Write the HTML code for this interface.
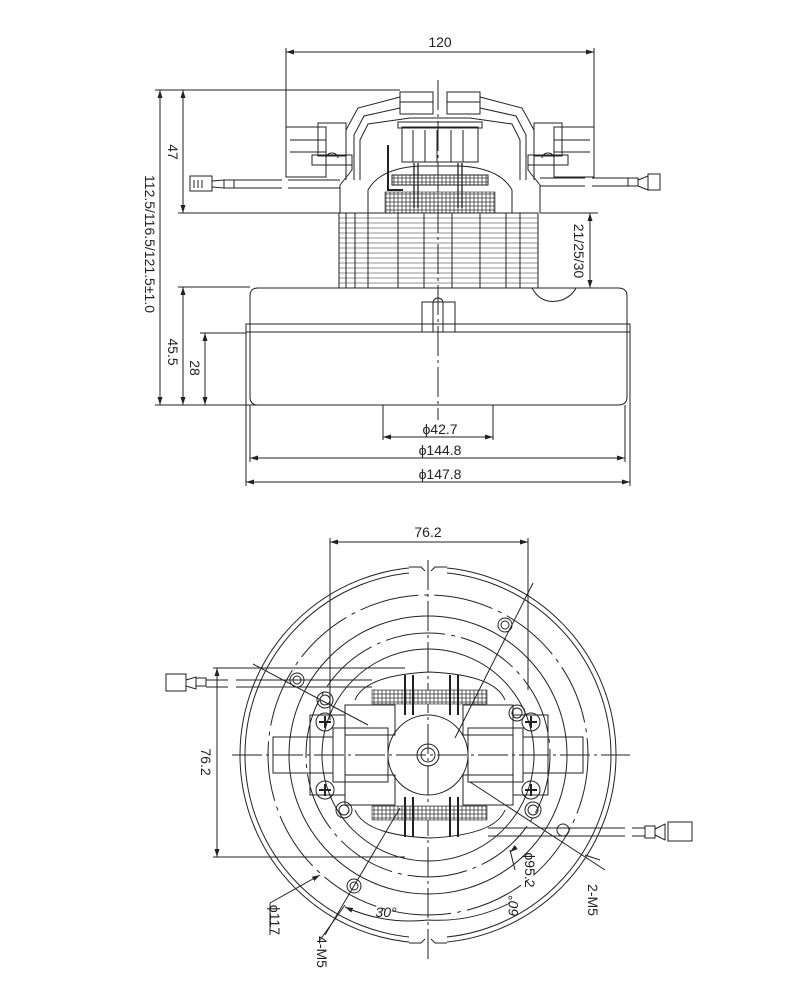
<!DOCTYPE html>
<html><head><meta charset="utf-8"><style>
html,body{margin:0;padding:0;background:#fff}
svg{display:block}
text{font-family:"Liberation Sans",sans-serif;fill:#222}
</style></head><body>
<svg width="800" height="1000" viewBox="0 0 800 1000" xmlns="http://www.w3.org/2000/svg">
<defs>
<marker id="a" markerWidth="8" markerHeight="6" refX="8" refY="3" orient="auto-start-reverse"><path d="M0,0.5 L8,3 L0,5.5z" fill="#222"/></marker>
<pattern id="hatch" width="4" height="4" patternUnits="userSpaceOnUse"><rect width="4" height="4" fill="#fff"/><path d="M0,2h4M2,0v4" stroke="#333" stroke-width="0.8"/></pattern>
</defs>
<g stroke="#222" fill="none" stroke-width="1">
<!-- ===== TOP VIEW ===== -->
<line x1="286" y1="48" x2="286" y2="127"/><line x1="594" y1="48" x2="594" y2="127"/>
<line x1="286" y1="52" x2="594" y2="52" marker-start="url(#a)" marker-end="url(#a)"/>
<line x1="155" y1="90" x2="400" y2="90"/>
<line x1="160" y1="90" x2="160" y2="405" marker-start="url(#a)" marker-end="url(#a)"/>
<line x1="183" y1="90" x2="183" y2="213" marker-start="url(#a)" marker-end="url(#a)"/>
<line x1="178" y1="213" x2="340" y2="213"/>
<line x1="178" y1="287" x2="250" y2="287"/>
<line x1="183" y1="287" x2="183" y2="405" marker-start="url(#a)" marker-end="url(#a)"/>
<line x1="200" y1="333" x2="246" y2="333"/>
<line x1="205" y1="333" x2="205" y2="405" marker-start="url(#a)" marker-end="url(#a)"/>
<line x1="155" y1="405" x2="262" y2="405"/>
<line x1="540" y1="213" x2="598" y2="213"/>
<line x1="590" y1="213" x2="590" y2="288" marker-start="url(#a)" marker-end="url(#a)"/>
<path d="M400,92 h33 v10 h-33z M447,92 h33 v10 h-33z" />
<path d="M400,102 h33 v12 h-33z M447,102 h33 v12 h-33z"/>
<path d="M346,180 L346,130 L358,108 L400,97 M480,97 L522,108 L534,130 L534,180"/>
<path d="M354,180 L354,135 L364,116 L400,108 M480,108 L516,116 L526,135 L526,180"/>
<path d="M360,180 L360,140 L368,124 L410,118 L470,118 L512,124 L520,140 L520,180"/>
<rect x="402" y="127" width="76" height="35"/>
<path d="M413,130v32M425,130v32M437,130v32M451,130v32M463,130v32"/>
<rect x="398" y="122" width="84" height="6"/>
<rect x="286" y="127" width="40" height="50"/><rect x="318" y="123" width="28" height="33"/>
<path d="M290,140h36M290,152h36M312,155h40v10h-40z"/>
<rect x="554" y="127" width="40" height="50"/><rect x="534" y="123" width="28" height="33"/>
<path d="M554,140h36M554,152h36M528,155h40v10h-40z"/>
<path d="M326,158 a6,5 0 0 1 12,0 M542,158 a6,5 0 0 1 12,0"/>
<path d="M340,213 L340,185 L352,170 L352,160 M540,213 L540,185 L528,170 L528,160"/>
<path d="M368,213 L368,190 Q380,168 420,166 L460,166 Q500,168 512,190 L512,213"/>
<rect x="392" y="175" width="96" height="10" fill="url(#hatch)"/>
<rect x="385" y="192" width="110" height="21" fill="url(#hatch)" stroke-width="0.6"/>
<path d="M414,163v45M418,163v45M458,163v45M462,163v45" stroke-width="1.3"/>
<path d="M388,145 v45 h15" stroke-width="2"/>
<rect x="190" y="176" width="22" height="15"/><path d="M194,180v8M198,180v8M202,180v8M212,181 l12,-1 v8 l-12,-1"/>
<rect x="224" y="180" width="10" height="8"/>
<path d="M234,180 H282 M234,188 H282 M288,180 H340 M288,188 H340"/>
<path d="M540,178 H585 M540,186 H585 M592,178 H628 M592,186 H628"/>
<rect x="628" y="178" width="10" height="8"/><path d="M638,180 l10,-4 v14 l-10,-4"/><rect x="648" y="174" width="12" height="16"/>
<rect x="339" y="213" width="199" height="75"/>
<g stroke-width="0.5">
<path d="M339,218h199M339,223h199M339,228h199M339,233h199M339,238h199M339,243h199M339,248h199M339,253h199M339,258h199M339,263h199M339,268h199M339,273h199M339,278h199M339,283h199"/>
</g>
<path d="M346,213v75M355,213v75M368,213v75M398,213v75M424,213v75M452,213v75M480,213v75M506,213v75M520,213v75"/>
<path d="M250,333 L250,296 Q250,288 258,288 L618,288 Q627,288 627,296 L627,333"/>
<rect x="246" y="324" width="384" height="8"/>
<path d="M250,332 L250,397 Q250,405 258,405 L618,405 Q627,405 627,397 L627,332"/>
<path d="M422,332 V302 H455 V332 M433,332 V303 a5,5 0 0 1 10,0 V332"/>
<path d="M532,288 q10,18 30,12 q10,-4 14,-12"/>
<line x1="438" y1="80" x2="438" y2="420" stroke-dasharray="30,4,3,4"/>
<line x1="383" y1="405" x2="383" y2="440"/><line x1="493" y1="405" x2="493" y2="440"/>
<line x1="383" y1="437" x2="493" y2="437" marker-start="url(#a)" marker-end="url(#a)"/>
<line x1="250" y1="405" x2="250" y2="462"/><line x1="625" y1="405" x2="625" y2="462"/>
<line x1="250" y1="458" x2="625" y2="458" marker-start="url(#a)" marker-end="url(#a)"/>
<line x1="246" y1="332" x2="246" y2="486"/><line x1="630" y1="332" x2="630" y2="486"/>
<line x1="246" y1="482" x2="630" y2="482" marker-start="url(#a)" marker-end="url(#a)"/>

<!-- ===== BOTTOM VIEW ===== -->
<line x1="330" y1="538" x2="330" y2="720"/><line x1="528" y1="538" x2="528" y2="690"/>
<line x1="330" y1="542" x2="528" y2="542" marker-start="url(#a)" marker-end="url(#a)"/>
<line x1="213" y1="668" x2="405" y2="668"/><line x1="213" y1="857" x2="405" y2="857"/>
<line x1="217" y1="668" x2="217" y2="857" marker-start="url(#a)" marker-end="url(#a)"/>
<circle cx="428" cy="755" r="188"/>
<circle cx="428" cy="755" r="183"/>
<rect x="409" y="562" width="38" height="12" fill="#fff" stroke="none"/>
<rect x="409" y="936" width="38" height="12" fill="#fff" stroke="none"/>
<path d="M409,567 h12 l4,4 M447,567 h-12 l-4,4 M409,943 h12 l4,-4 M447,943 h-12 l-4,-4"/>
<circle cx="428" cy="755" r="160" stroke-dasharray="60,6,4,6"/>
<circle cx="428" cy="755" r="139"/>
<circle cx="428" cy="755" r="122" stroke-dasharray="60,6,4,6"/>
<circle cx="428" cy="755" r="106"/>
<circle cx="428" cy="755" r="40"/>
<circle cx="428" cy="755" r="11"/><circle cx="428" cy="755" r="7"/>
<line x1="428" y1="560" x2="428" y2="960" stroke-dasharray="30,4,3,4"/>
<line x1="232" y1="755" x2="630" y2="755" stroke-dasharray="30,4,3,4"/>
<path d="M355,700 Q365,675 430,672 Q495,675 505,700" />
<path d="M355,810 Q365,835 430,838 Q495,835 505,810" />
<rect x="372" y="690" width="115" height="14" fill="url(#hatch)" stroke-width="0.6"/>
<rect x="372" y="806" width="115" height="14" fill="url(#hatch)" stroke-width="0.6"/>
<path d="M405,675v40M413,675v40M450,675v40M458,675v40M405,797v40M413,797v40M450,797v40M458,797v40" stroke-width="2"/>
<rect x="273" y="737" width="60" height="36"/><rect x="333" y="728" width="55" height="54"/>
<rect x="523" y="737" width="60" height="36"/><rect x="468" y="728" width="55" height="54"/>
<rect x="345" y="705" width="50" height="30"/><rect x="345" y="775" width="50" height="30"/>
<rect x="463" y="705" width="50" height="30"/><rect x="463" y="775" width="50" height="30"/>
<path d="M310,715 h35 v80 h-35z M513,715 h35 v80 h-35z"/>
<g>
<circle cx="325" cy="722" r="9"/><circle cx="325" cy="790" r="9"/><circle cx="531" cy="722" r="9"/><circle cx="531" cy="790" r="9"/>
<path d="M319,722h12M325,716v12M319,790h12M325,784v12M525,722h12M531,716v12M525,790h12M531,784v12" stroke-width="2"/>
<circle cx="325" cy="700" r="8"/><circle cx="325" cy="700" r="5"/>
<circle cx="517" cy="713" r="8"/><circle cx="517" cy="713" r="5"/>
<circle cx="344" cy="810" r="8"/><circle cx="344" cy="810" r="5"/>
<circle cx="533" cy="810" r="8"/><circle cx="533" cy="810" r="5"/>
<circle cx="297" cy="680" r="7"/><circle cx="297" cy="680" r="4"/>
<circle cx="505" cy="625" r="7"/><circle cx="505" cy="625" r="4"/>
<circle cx="354" cy="886" r="7"/><circle cx="354" cy="886" r="4"/>
<circle cx="563" cy="830" r="6"/>
</g>
<line x1="253" y1="664" x2="368" y2="725"/><line x1="533" y1="583" x2="455" y2="738"/>
<line x1="400" y1="808" x2="325" y2="935"/><line x1="470" y1="782" x2="605" y2="870"/>
<line x1="510" y1="850" x2="515" y2="870"/>
<rect x="166" y="674" width="20" height="17"/><path d="M186,680 l10,-3 v12 l-10,-3"/><rect x="196" y="678" width="10" height="8"/>
<path d="M206,680 H228 M206,687 H228 M236,680 H372 M236,687 H372"/>
<path d="M488,828 H625 M488,836 H625 M632,828 H645 M632,836 H645"/>
<rect x="645" y="826" width="10" height="12"/><path d="M655,829 l10,-5 v16 l-10,-5"/><rect x="668" y="822" width="24" height="19"/>
<path d="M345,907 A160,160 0 0 0 428,920 M428,920 A160,160 0 0 0 510,903" marker-start="url(#a)"/>
<line x1="270" y1="903" x2="320" y2="875" marker-end="url(#a)"/>
<line x1="270" y1="903" x2="270" y2="935"/>
<line x1="320" y1="940" x2="345" y2="905"/>
<line x1="585" y1="855" x2="600" y2="860"/>
<line x1="515" y1="848" x2="510" y2="852" marker-end="url(#a)"/>
</g>
<g font-size="14">
<text x="440" y="47" text-anchor="middle">120</text>
<text x="440" y="434" text-anchor="middle">ϕ42.7</text>
<text x="440" y="455" text-anchor="middle">ϕ144.8</text>
<text x="440" y="479" text-anchor="middle">ϕ147.8</text>
<text x="428" y="537" text-anchor="middle">76.2</text>
<text transform="translate(145,244) rotate(90)" text-anchor="middle">112.5/116.5/121.5±1.0</text>
<text transform="translate(168,152) rotate(90)" text-anchor="middle">47</text>
<text transform="translate(168,352) rotate(90)" text-anchor="middle">45.5</text>
<text transform="translate(190,368) rotate(90)" text-anchor="middle">28</text>
<text transform="translate(574,251) rotate(90)" text-anchor="middle">21/25/30</text>
<text transform="translate(201,762) rotate(90)" text-anchor="middle">76.2</text>
<text transform="translate(270,920) rotate(90)" text-anchor="middle">ϕ117</text>
<text transform="translate(317,952) rotate(90)" text-anchor="middle">4-M5</text>
<text transform="translate(525,870) rotate(90)" text-anchor="middle">ϕ95.2</text>
<text transform="translate(588,900) rotate(90)" text-anchor="middle">2-M5</text>
<text transform="translate(518,906) rotate(-90)" text-anchor="middle" font-style="italic">60°</text>
<text x="386" y="917" text-anchor="middle" font-style="italic">30°</text>
</g>
</svg>
</body></html>
